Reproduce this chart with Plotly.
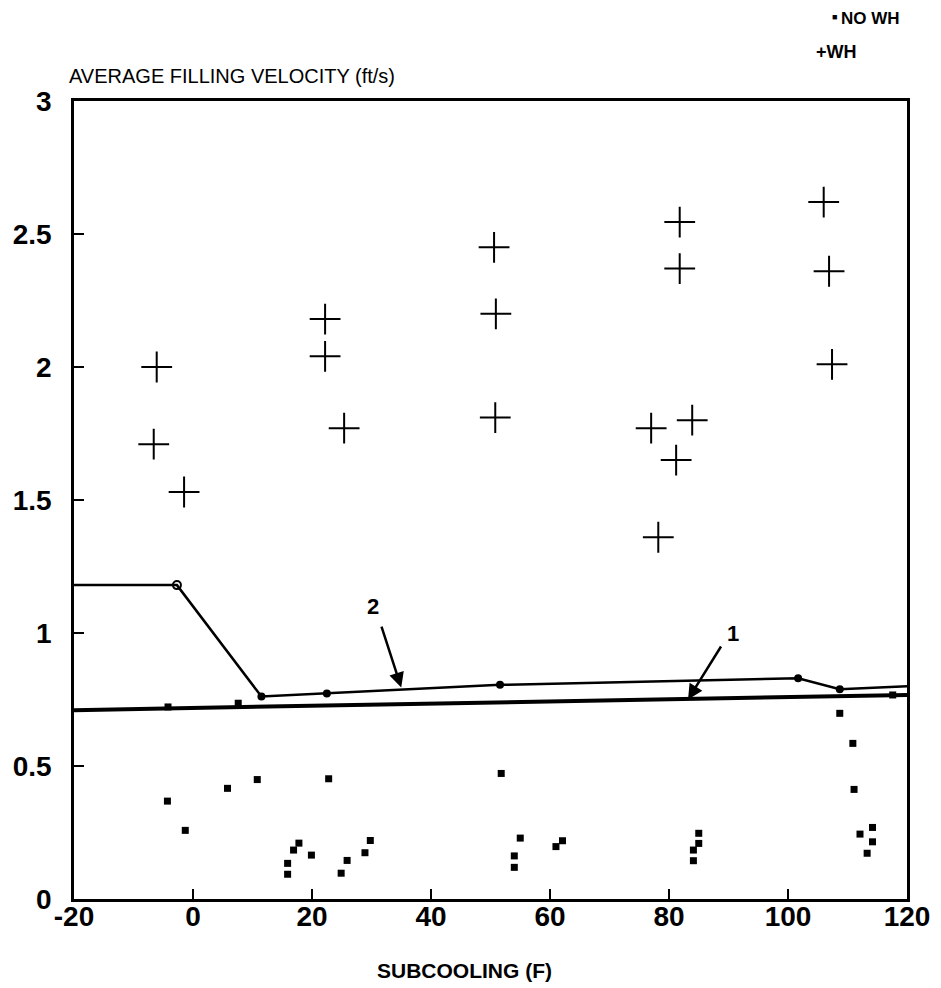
import plotly.graph_objects as go

# ---- data ----
wh_x = [-6.1, -6.6, -1.5, 22.2, 22.2, 25.4, 50.6, 50.9, 50.8, 77.0, 78.2, 81.2, 83.9, 81.8, 81.8, 106.0, 106.9, 107.4]
wh_y = [2.00, 1.71, 1.53, 2.18, 2.04, 1.77, 2.45, 2.20, 1.81, 1.77, 1.36, 1.65, 1.80, 2.545, 2.37, 2.62, 2.36, 2.01]

nowh_x = [-4.3, -1.3, 5.8, 10.8, 22.8, 51.8, 15.9, 15.9, 16.9, 17.8, 19.9, 24.9, 25.9, 28.9, 29.8,
          55.0, 54.0, 54.0, 61.0, 62.1, 84.1, 84.1, 85.0, 85.0, 110.9, 111.1, 112.1, 114.2, 114.2, 113.3,
          108.7, -4.2, 7.6, 117.6]
nowh_y = [0.368, 0.258, 0.416, 0.449, 0.452, 0.472, 0.134, 0.093, 0.184, 0.210, 0.165, 0.097, 0.145, 0.174, 0.220,
          0.229, 0.162, 0.119, 0.197, 0.219, 0.184, 0.144, 0.247, 0.209, 0.585, 0.412, 0.244, 0.269, 0.215, 0.172,
          0.698, 0.722, 0.736, 0.767]

curve2_x = [-20, -2.7, 11.5, 22.5, 51.6, 101.7, 108.7, 120]
curve2_y = [1.18, 1.18, 0.761, 0.773, 0.805, 0.830, 0.789, 0.800]
curve2_open = [-2.7]

curve1_x = [-20, 120]
curve1_y = [0.71, 0.767]

x_ticks = [-20, 0, 20, 40, 60, 80, 100, 120]
y_ticks = [0, 0.5, 1, 1.5, 2, 2.5, 3]
y_tick_text = ["0", "0.5", "1", "1.5", "2", "2.5", "3"]

label2 = dict(text="2", x=30.3, y=1.10, tail=(31.6, 1.03), head=(35.0, 0.795))
label1 = dict(text="1", x=90.8, y=1.00, tail=(88.9, 0.955), head=(83.2, 0.750))

FONT = "Liberation Sans"

fig = go.Figure()

fig.add_trace(go.Scatter(x=curve1_x, y=curve1_y, mode="lines",
                         line=dict(color="black", width=4), showlegend=False, hoverinfo="skip"))
fig.add_trace(go.Scatter(x=curve2_x, y=curve2_y, mode="lines",
                         line=dict(color="black", width=2.5), showlegend=False, hoverinfo="skip"))
fig.add_trace(go.Scatter(x=curve2_x[2:-1], y=curve2_y[2:-1], mode="markers",
                         marker=dict(symbol="circle", size=8, color="black"),
                         showlegend=False, hoverinfo="skip"))
fig.add_trace(go.Scatter(x=curve2_open, y=[curve2_y[1]], mode="markers",
                         marker=dict(symbol="circle-open", size=8, color="black", line=dict(width=2)),
                         showlegend=False, hoverinfo="skip"))

fig.add_trace(go.Scatter(x=nowh_x, y=nowh_y, mode="markers", name="NO WH", showlegend=False,
                         marker=dict(symbol="square", size=7, color="black")))
fig.add_trace(go.Scatter(x=wh_x, y=wh_y, mode="markers", name="WH", showlegend=False,
                         marker=dict(symbol="cross-thin", size=22, color="black",
                                     line=dict(color="black", width=2))))

for lab in (label2, label1):
    fig.add_annotation(x=lab["x"], y=lab["y"], text=f"<b>{lab['text']}</b>", showarrow=False,
                       font=dict(family=FONT, size=22, color="black"))
    fig.add_annotation(x=lab["head"][0], y=lab["head"][1], ax=lab["tail"][0], ay=lab["tail"][1],
                       axref="x", ayref="y", xref="x", yref="y", text="", showarrow=True,
                       arrowhead=2, arrowsize=1.2, arrowwidth=2.5, arrowcolor="black")

# y-axis title above the frame
fig.add_annotation(x=0, y=1, xref="paper", yref="paper", xanchor="left", yanchor="bottom",
                   xshift=-7, yshift=12,
                   text="AVERAGE FILLING VELOCITY (ft/s)", showarrow=False,
                   font=dict(family=FONT, size=20, color="black"))

# x-axis title
fig.add_annotation(x=0.469, y=0, xref="paper", yref="paper", xanchor="center", yanchor="middle",
                   yshift=-71, text="<b>SUBCOOLING (F)</b>", showarrow=False,
                   font=dict(family=FONT, size=21, color="black"))

# legend (as in the reference, top right outside the frame)
fig.add_annotation(x=1.0, y=1.104, xref="paper", yref="paper", xanchor="center", yanchor="middle",
                   xshift=-73, yshift=1, text="■", showarrow=False,
                   font=dict(family=FONT, size=9, color="black"))
fig.add_annotation(x=1.0, y=1.104, xref="paper", yref="paper", xanchor="left", yanchor="middle",
                   xshift=-68, text="<b>NO WH</b>", showarrow=False,
                   font=dict(family=FONT, size=17, color="black"))
fig.add_annotation(x=1.0, y=1.061, xref="paper", yref="paper", xanchor="left", yanchor="middle",
                   xshift=-93, text="<b>+WH</b>", showarrow=False,
                   font=dict(family=FONT, size=18, color="black"))

axis_common = dict(showline=True, linecolor="black", linewidth=2.5, mirror=True,
                   ticks="inside", ticklen=10, tickwidth=2, tickcolor="black",
                   showgrid=False, zeroline=False,
                   tickfont=dict(family=FONT, size=28, color="black", weight="bold"))

fig.update_xaxes(range=[-20, 120], tickvals=x_ticks, ticktext=[str(v) for v in x_ticks],
                 ticklabelstandoff=-9, **axis_common)
fig.update_yaxes(range=[0, 3], tickvals=y_ticks, ticktext=y_tick_text,
                 ticklabelstandoff=14, **axis_common)

fig.update_layout(
    width=941, height=988,
    margin=dict(l=74, r=34, t=101, b=89, autoexpand=False),
    paper_bgcolor="white", plot_bgcolor="white",
    showlegend=False,
)

fig.write_html("out.html")
